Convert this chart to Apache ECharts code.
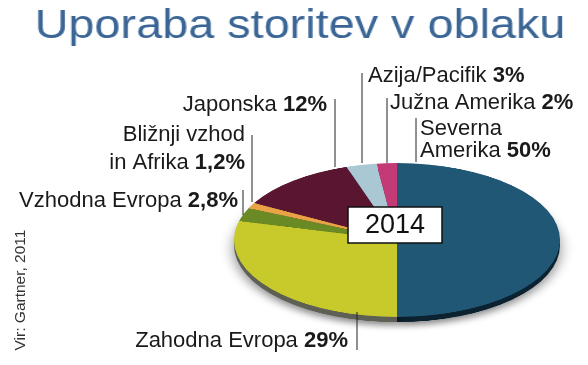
<!DOCTYPE html>
<html><head><meta charset="utf-8">
<script src="https://cdn.jsdelivr.net/npm/echarts@6/dist/echarts.min.js"></script>
<style>
html,body{margin:0;padding:0;background:#fff;width:588px;height:365px;overflow:hidden}
#pie{position:absolute;left:0;top:0;width:588px;height:480px;transform-origin:397px 240px;transform:scaleY(0.472)}
#title{position:absolute;left:0;top:0;width:588px;height:60px;transform-origin:300px 0;transform:scaleX(1.17)}
#ov{position:absolute;left:0;top:0;width:588px;height:365px}
</style></head><body>
<div id="pie"></div><div id="title"></div><div id="ov"></div>
<script>
// ---- data ----
const titleText = 'Uporaba storitev v oblaku';
const yearText = '2014';
const sourceText = 'Vir: Gartner, 2011';
const categories = ['Severna Amerika', 'Zahodna Evropa', 'Vzhodna Evropa', 'Bližnji vzhod in Afrika', 'Japonska', 'Azija/Pacifik', 'Južna Amerika'];
const shares = [50, 29, 2.8, 1.2, 12, 3, 2];
const shareLabels = ['50%', '29%', '2,8%', '1,2%', '12%', '3%', '2%'];
const labelLines = [['Severna', 'Amerika'], ['Zahodna Evropa'], ['Vzhodna Evropa'], ['Bližnji vzhod', 'in Afrika'], ['Japonska'], ['Azija/Pacifik'], ['Južna Amerika']];

// ---- styles / layout ----
const topColors = ['#1f5775', '#c8ca2c', '#6a8a26', '#e9a246', '#5a1530', '#a9c8d4', '#c43a76'];
const rimColors = ['#0c2230', '#5e5f55', '#38461a', '#7a5420', '#2e0a18', '#607880', '#6a1e40'];
const labelLayout = [
  {align: 'left',  x: 420, ys: [129, 151], line: [416, 118, 162]},
  {align: 'right', x: 348, ys: [341],      line: [357, 312, 350]},
  {align: 'right', x: 238, ys: [201],      line: [243, 190, 215]},
  {align: 'right', x: 245, ys: [135, 163], line: [252, 135, 202]},
  {align: 'right', x: 327, ys: [105],      line: [335, 99, 167]},
  {align: 'left',  x: 368, ys: [76],       line: [362, 73, 163]},
  {align: 'left',  x: 390, ys: [103],      line: [387, 98, 163]}
];
const FONT = '"Liberation Sans", Arial, Helvetica, sans-serif';

// ---- pie (elliptical via vertical CSS scale) ----
const pieData = categories.map((c, i) => ({name: c, value: shares[i], itemStyle: {color: topColors[i]}}));
const rimData = categories.map((c, i) => ({name: c, value: shares[i], itemStyle: {color: rimColors[i]}}));
const pie = echarts.init(document.getElementById('pie'), null, {renderer: 'canvas'});
pie.setOption({
  animation: false,
  series: [
    {type: 'pie', silent: true, center: [397, 251], radius: [0, 163], startAngle: 90, clockwise: true,
     label: {show: false}, labelLine: {show: false}, data: rimData,
     itemStyle: {shadowBlur: 14, shadowColor: 'rgba(0,0,0,0.45)', shadowOffsetY: 8}, z: 1},
    {type: 'pie', silent: true, center: [397, 240], radius: [0, 163], startAngle: 90, clockwise: true,
     label: {show: false}, labelLine: {show: false}, data: pieData, z: 2}
  ]
});

// ---- title ----
const tchart = echarts.init(document.getElementById('title'));
tchart.setOption({
  animation: false,
  graphic: [{type: 'text', x: 300, y: 7, style: {text: titleText, fill: '#3a6595', fontSize: 40, fontFamily: FONT, align: 'center', verticalAlign: 'top'}}]
});

// ---- overlay labels ----
const ov = echarts.init(document.getElementById('ov'));
const g = [];
labelLayout.forEach((L, i) => {
  g.push({type: 'line', shape: {x1: L.line[0], y1: L.line[1], x2: L.line[0], y2: L.line[2]}, style: {stroke: '#222', lineWidth: 1}, silent: true});
  const lines = labelLines[i];
  lines.forEach((txt, k) => {
    const last = k === lines.length - 1;
    g.push({type: 'text', x: L.x, y: L.ys[k], silent: true, style: {
      text: last ? '{n|' + txt + ' }{b|' + shareLabels[i] + '}' : '{n|' + txt + '}',
      align: L.align, verticalAlign: 'middle', fontFamily: FONT, fontSize: 22, fill: '#1a1a1a',
      rich: {n: {fontFamily: FONT, fontSize: 22, fill: '#1a1a1a', color: '#1a1a1a'},
             b: {fontFamily: FONT, fontSize: 22, fontWeight: 'bold', fill: '#1a1a1a', color: '#1a1a1a'}}
    }});
  });
});
g.push({type: 'rect', shape: {x: 348, y: 207, width: 94, height: 36}, style: {fill: '#fff', stroke: '#111', lineWidth: 1.5}, silent: true});
g.push({type: 'text', x: 395, y: 226, silent: true, style: {text: yearText, fontFamily: FONT, fontSize: 27, fill: '#111', align: 'center', verticalAlign: 'middle'}});
g.push({type: 'text', x: 20.5, y: 290, rotation: Math.PI / 2, silent: true, style: {text: sourceText, fontFamily: FONT, fontSize: 15.5, fill: '#333', align: 'center', verticalAlign: 'middle'}});
ov.setOption({animation: false, graphic: g});
</script>
</body></html>
